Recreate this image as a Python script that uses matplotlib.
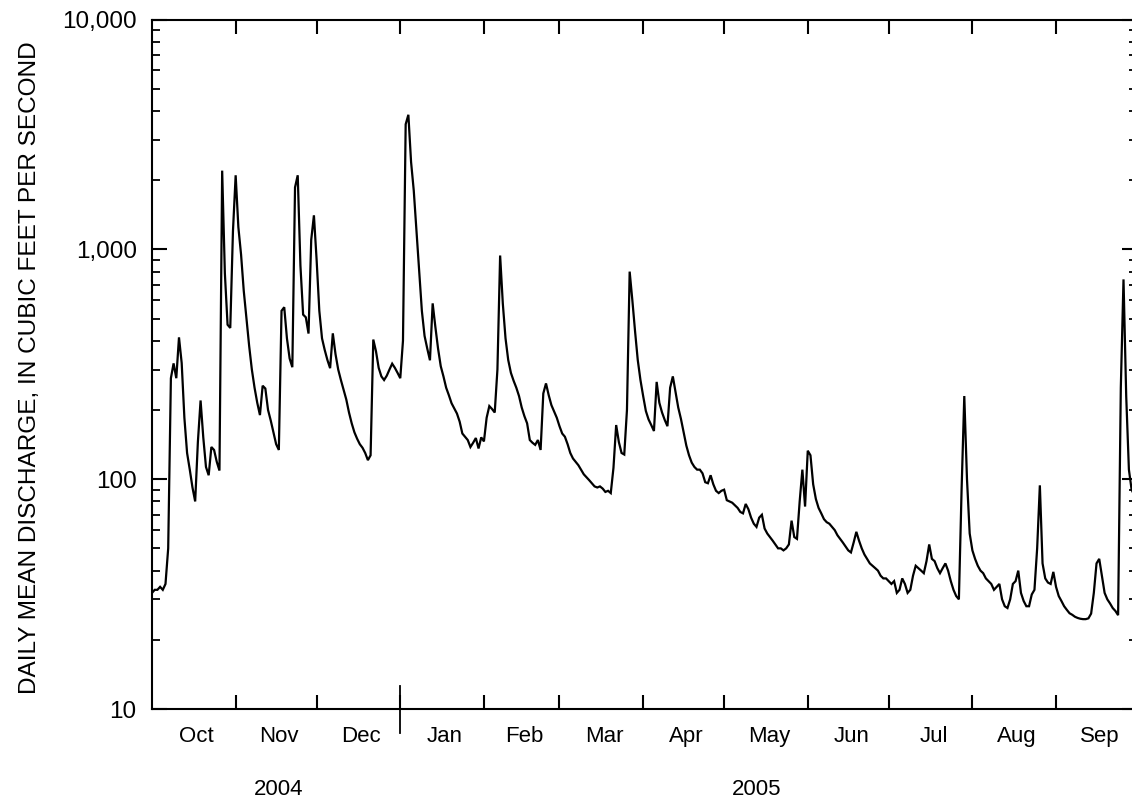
import numpy as np
import pandas as pd
import matplotlib
matplotlib.use("Agg")
import matplotlib.pyplot as plt
import matplotlib.dates as mdates
import matplotlib.transforms as mtransforms
from matplotlib.ticker import FixedLocator, FixedFormatter, LogLocator, NullFormatter

plt.rcParams["font.family"] = ["Liberation Sans", "DejaVu Sans"]

# Daily mean discharge (cfs), water year Oct 2004 - Sep 2005
oct_2004 = [32, 33, 33, 34, 33, 35, 50, 275, 319, 275, 414, 320, 185, 130, 110, 92, 80, 145,
            220, 152, 113, 104, 138, 134, 119, 109, 2200, 787, 470, 455, 1200]
nov_2004 = [2100, 1250, 950, 660, 500, 380, 300, 250, 215, 190, 255, 248, 200, 180, 160, 142,
            134, 540, 560, 410, 335, 307, 1860, 2100, 850, 520, 506, 430, 1100, 1406]
dec_2004 = [900, 540, 410, 365, 330, 304, 431, 350, 300, 270, 245, 222, 195, 175, 160, 150,
            142, 137, 130, 121, 127, 405, 360, 305, 280, 270, 282, 300, 318, 305, 290]
jan_2005 = [275, 400, 3500, 3850, 2400, 1800, 1200, 800, 540, 420, 370, 329, 582, 460, 370,
            310, 280, 250, 232, 214, 203, 193, 178, 158, 153, 148, 138, 144, 151, 136, 152]
feb_2005 = [146, 185, 208, 202, 195, 300, 940, 580, 410, 330, 290, 268, 250, 230, 205, 188,
            175, 148, 144, 141, 148, 134, 236, 261, 232, 210, 197, 185]
mar_2005 = [170, 158, 153, 142, 130, 123, 119, 115, 110, 105, 102, 99, 96, 93, 92, 93, 91, 88,
            89, 87, 112, 172, 145, 130, 128, 200, 800, 600, 440, 330, 270]
apr_2005 = [230, 198, 182, 172, 162, 265, 215, 195, 181, 170, 250, 280, 240, 205, 183, 160,
            140, 127, 118, 113, 110, 110, 106, 97, 96, 104, 95, 89, 87, 89]
may_2005 = [90, 81, 80, 79, 77, 75, 72, 71, 78, 74, 68, 64, 62, 68, 70, 61, 58, 56, 54, 52,
            50, 50, 49, 50, 52, 66, 56, 55, 80, 110, 76]
jun_2005 = [133, 127, 95, 82, 75, 71, 67, 65, 64, 62, 60, 57, 55, 53, 51, 49, 48, 53, 59, 54,
            50, 47, 45, 43, 42, 41, 40, 38, 37, 37]
jul_2005 = [36, 35, 36, 32, 33, 37, 35, 32, 33, 38, 42, 41, 40, 39, 44, 52, 45, 44, 41, 39,
            41, 43, 40, 36, 33, 31, 30, 90, 230, 100, 58]
aug_2005 = [49, 45, 42, 40, 39, 37, 36, 35, 33, 34, 35, 30, 28, 27.5, 30, 35, 36, 40, 32,
            29.5, 28, 28, 31.5, 33, 50, 94, 43, 37, 35.5, 35, 39.5]
sep_2005 = [34, 31, 29.5, 28, 27, 26.1, 25.7, 25.2, 24.9, 24.7, 24.6, 24.6, 24.8, 26, 32,
            43, 45, 38, 32, 30, 28.8, 27.5, 26.7, 25.6, 250, 740, 230, 110, 90, 85]

month_labels = ["Oct", "Nov", "Dec", "Jan", "Feb", "Mar", "Apr", "May", "Jun", "Jul", "Aug", "Sep"]
year_labels = ["2004", "2005"]
y_ticks = [10, 100, 1000, 10000]
y_tick_labels = ["10", "100", "1,000", "10,000"]
y_label = "DAILY MEAN DISCHARGE, IN CUBIC FEET PER SECOND"

discharge = np.array(oct_2004 + nov_2004 + dec_2004 + jan_2005 + feb_2005 + mar_2005 +
                     apr_2005 + may_2005 + jun_2005 + jul_2005 + aug_2005 + sep_2005, dtype=float)
days = pd.date_range("2004-10-01", periods=len(discharge), freq="D")

W, H = 1132, 802
fig = plt.figure(figsize=(W / 100, H / 100), dpi=100)
left, right, top, bottom = 152, 1137, 19.5, 709
ax = fig.add_axes([left / W, (H - bottom) / H, (right - left) / W, (bottom - top) / H])

ax.plot(days, discharge, color="black", lw=1.6, solid_joinstyle="miter")

ax.set_yscale("log")
ax.set_ylim(10, 10000)
x0 = pd.Timestamp("2004-10-01")
x1 = pd.Timestamp("2005-10-01")
ax.set_xlim(x0, x1)

# y axis: decades labelled, 2..9 minor ticks on both sides
ax.yaxis.set_major_locator(FixedLocator(y_ticks))
ax.yaxis.set_major_formatter(FixedFormatter(y_tick_labels))
ax.yaxis.set_minor_locator(LogLocator(base=10, subs=np.arange(2, 10)))
ax.yaxis.set_minor_formatter(NullFormatter())

# x axis: ticks at month starts, labels centred within each month
month_starts = pd.date_range(x0, x1, freq="MS")
starts_num = mdates.date2num(month_starts)
mids = (starts_num[:-1] + starts_num[1:]) / 2
ax.xaxis.set_major_locator(FixedLocator(starts_num[1:-1]))
ax.xaxis.set_major_formatter(NullFormatter())
ax.xaxis.set_minor_locator(FixedLocator(mids))
ax.xaxis.set_minor_formatter(FixedFormatter(month_labels))

for s in ax.spines.values():
    s.set_linewidth(1.5)

ax.tick_params(axis="y", which="major", direction="in", length=11, width=1.5,
               left=True, right=True, labelsize=17.5, pad=11)
ax.tick_params(axis="y", which="minor", direction="in", length=6, width=1.3,
               left=True, right=True)
ax.tick_params(axis="x", which="major", direction="in", length=10, width=1.5,
               top=True, bottom=True)
ax.tick_params(axis="x", which="minor", length=0, top=False, bottom=True,
               labelsize=16, pad=12)

# nudge month names slightly to the right
shift = mtransforms.ScaledTranslation(3 / 100, 0, fig.dpi_scale_trans)
for lbl in ax.xaxis.get_minorticklabels():
    lbl.set_transform(lbl.get_transform() + shift)

# year divider at 1 January
jan1 = mdates.date2num(pd.Timestamp("2005-01-01"))
ax.plot([jan1, jan1], [-0.035, 0.034], color="black", lw=1.3,
        transform=ax.get_xaxis_transform(), clip_on=False)

ax.text(mdates.date2num(pd.Timestamp("2004-11-17")), -0.117, year_labels[0],
        transform=ax.get_xaxis_transform(), ha="center", va="center", fontsize=16)
ax.text(mdates.date2num(pd.Timestamp("2005-05-13")), -0.117, year_labels[1],
        transform=ax.get_xaxis_transform(), ha="center", va="center", fontsize=16)

fig.text(30 / W, (H - 367.5) / H, y_label, rotation=90, ha="center", va="center",
         fontsize=17.6)

fig.savefig("out.png", dpi=100)
